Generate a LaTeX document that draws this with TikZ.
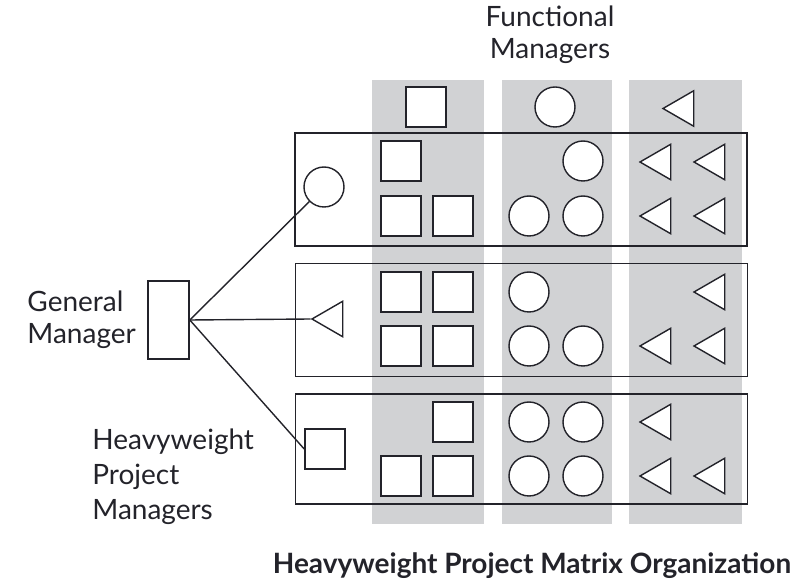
\documentclass[tikz,border=0pt]{standalone}
\usepackage{fontspec}
\setmainfont{Lato}
\usetikzlibrary{positioning,shapes.geometric}
\definecolor{colgray}{RGB}{209,210,212}
\definecolor{inkc}{RGB}{35,35,42}

\begin{document}
\begin{tikzpicture}[
    x=0.5pt, y=-0.5pt,
    sq/.style = {rectangle, draw=inkc, line width=0.8pt, fill=white,
                 minimum size=20pt, inner sep=0pt},
    circ/.style = {circle, draw=inkc, line width=0.7pt, fill=white,
                   minimum size=20pt, inner sep=0pt},
    tri/.style = {regular polygon, regular polygon sides=3, shape border rotate=90,
                  draw=inkc, line width=0.7pt, fill=white, minimum size=20.5pt, inner sep=0pt},
    rowbox/.style = {rectangle, draw=inkc, line width=0.9pt, minimum width=226pt,
                     minimum height=56.5pt, inner sep=0pt},
    conn/.style = {draw=inkc, line width=0.7pt},
    lbl/.style = {align=left, font=\fontsize{14}{16}\selectfont, text=inkc, inner sep=0pt},
    ttl/.style = {font=\fontsize{14}{16}\selectfont\bfseries, text=inkc, inner sep=0pt}
]
\useasboundingbox (0,0) rectangle (800,588);

% --- Functional columns (gray bands) ---
\fill[colgray] (372,80) rectangle (484,524);
\fill[colgray] (502,80) rectangle (612,524);
\fill[colgray] (629,80) rectangle (742,524);

% --- Project rows ---
\node[rowbox] (row1) at (521,189.5) {};
\node[rowbox] (row2) at (521.5,320) {};
\node[rowbox, minimum height=55pt] (row3) at (521.5,449) {};

% --- Functional managers (column heads) ---
\node[sq] (hdsq) at (426,107) {};
\node[circ] (hdcirc) at (555,107) {};
\node[tri] (hdtri) at (683.5,108.5) {};

% --- Row 1 members ---
\foreach \n/\x/\y in {a/401/161, b/401/216, c/453/216}
  \node[sq] (r1s\n) at (\x,\y) {};
\foreach \n/\x/\y in {a/583/161, b/529/216, c/583/216}
  \node[circ] (r1c\n) at (\x,\y) {};
\foreach \n/\x/\y in {a/660.5/162, b/714.5/162, c/660.5/216, d/714.5/216}
  \node[tri] (r1t\n) at (\x,\y) {};

% --- Row 2 members ---
\foreach \n/\x/\y in {a/401/292, b/453/292, c/401/346, d/453/346}
  \node[sq] (r2s\n) at (\x,\y) {};
\foreach \n/\x/\y in {a/529/292, b/529/346, c/583/346}
  \node[circ] (r2c\n) at (\x,\y) {};
\foreach \n/\x/\y in {a/714.5/292, b/660.5/346, c/714.5/346}
  \node[tri] (r2t\n) at (\x,\y) {};

% --- Row 3 members ---
\foreach \n/\x/\y in {a/453/422, b/401/476, c/453/476}
  \node[sq] (r3s\n) at (\x,\y) {};
\foreach \n/\x/\y in {a/529/422, b/583/422, c/529/476, d/583/476}
  \node[circ] (r3c\n) at (\x,\y) {};
\foreach \n/\x/\y in {a/660.5/422, b/660.5/476, c/714.5/476}
  \node[tri] (r3t\n) at (\x,\y) {};

% --- Heavyweight project managers and general manager ---
\node[circ] (pm1) at (324,187) {};
\node[tri] (pm2) at (332.5,319) {};
\node[sq] (pm3) at (325,449) {};
\node[rectangle, draw=inkc, line width=0.8pt, minimum width=20.5pt,
      minimum height=39pt, inner sep=0pt] (gm) at (168.5,320) {};

\draw[conn] (gm.east) -- (pm1);
\draw[conn] (gm.east) -- (pm2.corner 1);
\draw[conn] (gm.east) -- (pm3.west);

% --- Labels ---
\node[lbl, left=5.5pt of gm] (gmlbl) {General\\Manager};
\node[lbl, align=center, above=11pt of hdcirc, xshift=-2.5pt] (fmlbl) {Functional\\Managers};
\node[lbl, font=\fontsize{14}{17.5}\selectfont, anchor=north west] (hpmlbl) at (92,428)
     {Heavyweight\\Project\\Managers};
\node[ttl, anchor=base] (title) at (532,574) {Heavyweight Project Matrix Organization};

\end{tikzpicture}
\end{document}
